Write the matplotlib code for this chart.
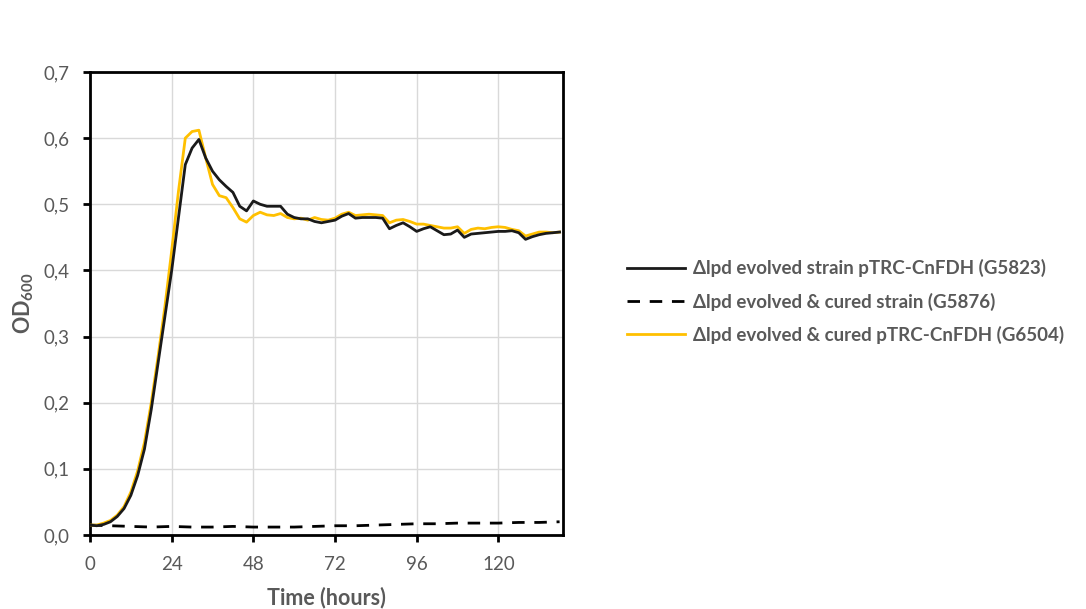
import matplotlib
matplotlib.use("Agg")
import matplotlib.pyplot as plt
from matplotlib.ticker import FuncFormatter, MultipleLocator
import numpy as np

plt.rcParams['font.family'] = ['Lato', 'DejaVu Sans']
plt.rcParams['mathtext.fontset'] = 'custom'
plt.rcParams['mathtext.rm'] = 'Lato'
plt.rcParams['mathtext.bf'] = 'Lato:bold'

# Time (hours)
time = list(range(0, 140, 2))

g5823 = [0.015, 0.014, 0.016, 0.020, 0.028, 0.040, 0.060, 0.090, 0.130, 0.190,
         0.260, 0.330, 0.400, 0.480, 0.560, 0.585, 0.598, 0.570, 0.550, 0.537,
         0.527, 0.518, 0.497, 0.490, 0.505, 0.500, 0.497, 0.497, 0.497, 0.485,
         0.480, 0.478, 0.478, 0.474, 0.472, 0.474, 0.476, 0.482, 0.486, 0.479,
         0.480, 0.480, 0.480, 0.479, 0.463, 0.468, 0.472, 0.466, 0.459, 0.463,
         0.466, 0.460, 0.454, 0.455, 0.461, 0.450, 0.455, 0.456, 0.457, 0.458,
         0.459, 0.459, 0.460, 0.457, 0.447, 0.451, 0.454, 0.456, 0.457, 0.458]

g6504 = [0.015, 0.015, 0.018, 0.022, 0.030, 0.043, 0.065, 0.097, 0.140, 0.200,
         0.270, 0.345, 0.430, 0.520, 0.600, 0.610, 0.612, 0.570, 0.530, 0.513,
         0.510, 0.495, 0.478, 0.473, 0.483, 0.488, 0.484, 0.483, 0.486, 0.480,
         0.478, 0.479, 0.476, 0.480, 0.477, 0.476, 0.479, 0.485, 0.488, 0.483,
         0.484, 0.485, 0.484, 0.483, 0.472, 0.476, 0.477, 0.474, 0.470, 0.470,
         0.468, 0.466, 0.464, 0.464, 0.466, 0.456, 0.462, 0.464, 0.463, 0.465,
         0.466, 0.465, 0.462, 0.460, 0.452, 0.455, 0.458, 0.458, 0.457, 0.458]

time_cured = list(range(0, 144, 6))
g5876 = [0.015, 0.014, 0.013, 0.012, 0.013, 0.012, 0.012, 0.013, 0.012, 0.012,
         0.012, 0.013, 0.014, 0.014, 0.015, 0.016, 0.017, 0.017, 0.018, 0.018,
         0.018, 0.019, 0.019, 0.020]

labels = ["Δlpd evolved strain pTRC-CnFDH (G5823)",
          "Δlpd evolved & cured strain (G5876)",
          "Δlpd evolved & cured pTRC-CnFDH (G6504)"]

x_ticks = [0, 24, 48, 72, 96, 120]

fig = plt.figure(figsize=(10.86, 6.09), dpi=100)
ax = fig.add_axes([0.0829, 0.1215, 0.4355, 0.7603])

l1, = ax.plot(time, g5823, color='#1a1a1a', lw=2.0, label=labels[0], zorder=4)
l2, = ax.plot(time_cured, g5876, color='black', lw=2.0, ls=(0, (4.5, 3.5)), label=labels[1], zorder=3)
l3, = ax.plot(time, g6504, color='#FFC000', lw=2.0, label=labels[2], zorder=3)

ax.set_xlim(0, 139)
ax.set_ylim(0, 0.7)
ax.set_xticks(x_ticks)
ax.yaxis.set_major_locator(MultipleLocator(0.1))
ax.yaxis.set_major_formatter(FuncFormatter(lambda v, p: f"{v:.1f}".replace('.', ',')))

ax.grid(True, color='#d9d9d9', lw=1.0)
ax.set_axisbelow(True)
for s in ax.spines.values():
    s.set_color('black')
    s.set_linewidth(2.0)

ax.tick_params(axis='both', direction='out', length=5, width=2, color='black',
               labelsize=13.5, labelcolor='#595959')
ax.tick_params(axis='x', pad=10)
ax.tick_params(axis='y', pad=10)

ax.set_xlabel("Time (hours)", fontsize=15.5, color='#595959', fontweight='bold', labelpad=10)
ax.set_ylabel("OD$_\\mathbf{600}$", fontsize=15.5, color='#595959', fontweight='bold', labelpad=5)

leg = fig.legend(handles=[l1, l2, l3], loc='center left', bbox_to_anchor=(0.562, 0.505),
                 frameon=False, fontsize=13.5, handlelength=3.1, handletextpad=0.43,
                 labelspacing=0.8)
for t in leg.get_texts():
    t.set_color('#595959')
    t.set_fontweight('bold')

fig.savefig("out.png", dpi=100)
